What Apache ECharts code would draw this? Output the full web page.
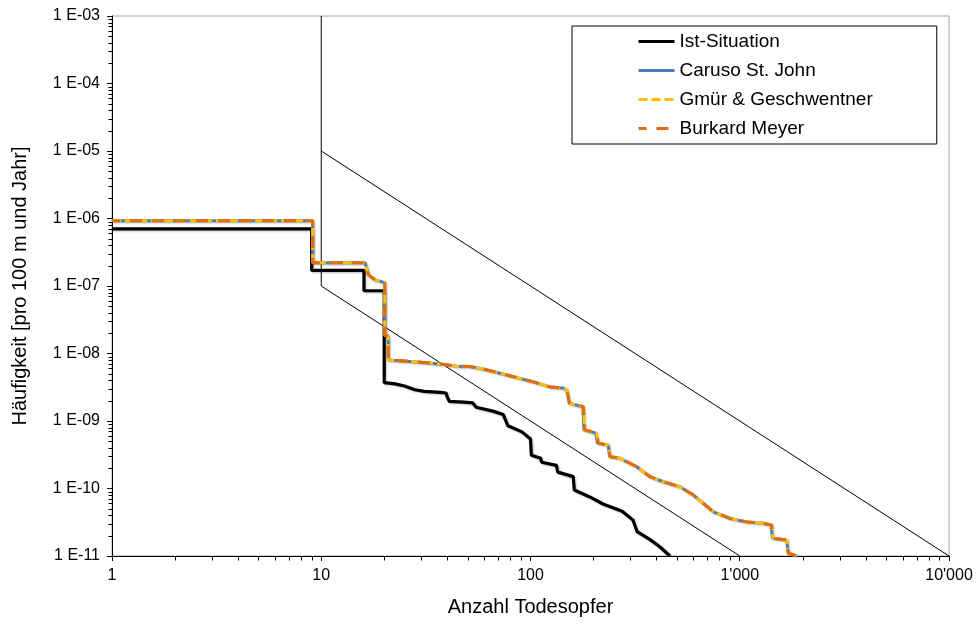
<!DOCTYPE html>
<html>
<head>
<meta charset="utf-8">
<script src="https://cdn.jsdelivr.net/npm/echarts@6/dist/echarts.min.js"></script>
<style>
html,body{margin:0;padding:0;background:#fff;}
#chart{width:979px;height:626px;}
</style>
</head>
<body>
<div id="chart"></div>
<script>
// ---- data ----
const xTickValues = [1, 10, 100, 1000, 10000];
const xTickLabels = ["1", "10", "100", "1'000", "10'000"];
const yTickValues = [1e-11, 1e-10, 1e-9, 1e-8, 1e-7, 1e-6, 1e-5, 1e-4, 1e-3];
const yTickLabels = ["1 E-11", "1 E-10", "1 E-09", "1 E-08", "1 E-07", "1 E-06", "1 E-05", "1 E-04", "1 E-03"];
const seriesNames = ["Ist-Situation", "Caruso St. John", "Gmür & Geschwentner", "Burkard Meyer"];

const istSituation = [[1,7.0e-7],[9,7.0e-7],[9,1.7e-7],[16,1.7e-7],[16,8.5e-8],[20,8.5e-8],[20,3.7e-9],
  [22.5,3.55e-9],[25,3.3e-9],[28,2.9e-9],[31,2.75e-9],[37,2.65e-9],[39.5,2.6e-9],[40,2.27e-9],[41,1.95e-9],
  [48,1.9e-9],[53,1.85e-9],[55,1.6e-9],[66,1.4e-9],[74,1.25e-9],[78,8.5e-10],[91,6.9e-10],[100,5.4e-10],
  [101,3.1e-10],[112,2.8e-10],[113,2.45e-10],[133,2.2e-10],[135,1.75e-10],[160,1.5e-10],[162,9.5e-11],
  [192,7.5e-11],[222,5.9e-11],[274,4.6e-11],[309,3.4e-11],[323,2.3e-11],[373,1.75e-11],[416,1.36e-11],[464,1e-11]];

const carusoStJohn = [[1,9.3e-7],[9.1,9.3e-7],[9.1,2.21e-7],[16.2,2.21e-7],[16.8,1.46e-7],[18.1,1.23e-7],[20.1,1.12e-7],
  [20.1,1.88e-8],[20.9,1.8e-8],[20.9,8.0e-9],[28.6,7.5e-9],[36.9,7.0e-9],[44.4,6.5e-9],[51.4,6.4e-9],[59.3,5.9e-9],
  [71.5,5.1e-9],[103,3.8e-9],[124,3.2e-9],[143,3.08e-9],[149,2.88e-9],[153,1.83e-9],[178,1.63e-9],[180,7.4e-10],
  [205,6.6e-10],[209,4.7e-10],[235,4.4e-10],[239,2.96e-10],[268,2.8e-10],[322,2.1e-10],[372,1.5e-10],[431,1.26e-10],
  [518,1.06e-10],[600,8.0e-11],[670,6.0e-11],[748,4.5e-11],[898,3.6e-11],[1079,3.2e-11],[1296,3.05e-11],
  [1410,2.88e-11],[1435,1.83e-11],[1675,1.73e-11],[1706,1.1e-11],[1872,1e-11]];

const gmurGeschwentner = [[1,9.3e-7],[9.1,9.3e-7],[9.1,2.21e-7],[16.2,2.21e-7],[16.8,1.46e-7],[18.1,1.23e-7],[20.1,1.12e-7],
  [20.1,1.88e-8],[20.9,1.8e-8],[20.9,8.0e-9],[28.6,7.5e-9],[36.9,7.0e-9],[44.4,6.5e-9],[51.4,6.4e-9],[59.3,5.9e-9],
  [71.5,5.1e-9],[103,3.8e-9],[124,3.2e-9],[143,3.08e-9],[149,2.88e-9],[154,1.83e-9],[179,1.63e-9],[182,7.4e-10],
  [207,6.6e-10],[211,4.7e-10],[235,4.4e-10],[240,2.96e-10],[268,2.8e-10],[322,2.1e-10],[372,1.5e-10],[431,1.26e-10],
  [518,1.06e-10],[600,8.0e-11],[670,6.0e-11],[748,4.5e-11],[898,3.6e-11],[1079,3.2e-11],[1296,3.05e-11],
  [1421,2.88e-11],[1445,1.83e-11],[1675,1.73e-11],[1706,1.1e-11],[1872,1e-11]];

const burkardMeyer = [[1,9.3e-7],[9.1,9.3e-7],[9.1,2.21e-7],[16.2,2.21e-7],[16.8,1.46e-7],[18.1,1.23e-7],[20.1,1.12e-7],
  [20.1,1.88e-8],[20.9,1.8e-8],[20.9,8.0e-9],[28.6,7.5e-9],[36.9,7.0e-9],[44.4,6.5e-9],[51.4,6.4e-9],[59.3,5.9e-9],
  [71.5,5.1e-9],[103,3.8e-9],[124,3.2e-9],[143,3.08e-9],[149,2.88e-9],[154,1.83e-9],[179,1.63e-9],[182,7.4e-10],
  [207,6.6e-10],[211,4.7e-10],[235,4.4e-10],[240,2.96e-10],[268,2.8e-10],[322,2.1e-10],[372,1.5e-10],[431,1.26e-10],
  [518,1.06e-10],[600,8.0e-11],[670,6.0e-11],[748,4.5e-11],[898,3.6e-11],[1079,3.2e-11],[1296,3.05e-11],
  [1421,2.88e-11],[1445,1.83e-11],[1675,1.73e-11],[1706,1.1e-11],[1872,1e-11]];

const limitLower = [[10,1e-3],[10,1e-7],[1000,1e-11]];
const limitUpper = [[10,1e-5],[10000,1e-11]];

const minorMultipliers = [2,3,4,5,6,7,8,9];
const xDecades = [1, 10, 100, 1000];
const yDecades = [1e-11, 1e-10, 1e-9, 1e-8, 1e-7, 1e-6, 1e-5, 1e-4];

// ---- build ----
const xMinor = [];
xDecades.forEach(d => minorMultipliers.forEach(m => xMinor.push([d*m, 1e-11])));
const yMinor = [];
yDecades.forEach(d => minorMultipliers.forEach(m => yMinor.push([1, d*m])));

const FONT = 'Liberation Sans, Arial, sans-serif';
const chart = echarts.init(document.getElementById('chart'), null, {renderer:'canvas'});

function tickSeries(data, dir) {
  return {
    type: 'custom', silent: true, clip: false, z: 10,
    data: data, encode: {x: 0, y: 1},
    renderItem: function (params, api) {
      const p = api.coord([api.value(0), api.value(1)]);
      const x = Math.round(p[0]) + 0.5, y = Math.round(p[1]) + 0.5;
      const shape = dir === 'x' ? {x1:x, y1:y, x2:x, y2:y+4} : {x1:x, y1:y, x2:x-4, y2:y};
      return {type:'line', shape: shape, style:{stroke:'#000', lineWidth:1}};
    }
  };
}

const shadow = {shadowColor:'rgba(0,0,0,0.25)', shadowBlur:2, shadowOffsetX:1, shadowOffsetY:1};

const option = {
  animation: false,
  backgroundColor: '#fff',
  textStyle: {fontFamily: FONT},
  grid: {left:112, right:30, top:16, bottom:70, show:true, borderColor:'#A6A6A6', borderWidth:1},
  legend: {
    data: seriesNames,
    orient: 'vertical',
    left: 572, top: 26,
    padding: [6, 64, 6, 65],
    itemWidth: 36, itemHeight: 14, itemGap: 10,
    borderColor: '#000', borderWidth: 1,
    backgroundColor: '#fff',
    itemStyle: {opacity: 0, borderWidth: 0},
    lineStyle: {width: 3},
    textStyle: {fontFamily: FONT, fontSize: 19, color: '#000'},
    inactiveColor: '#ccc'
  },
  xAxis: {
    type: 'log', logBase: 10, min: 1, max: 10000,
    name: 'Anzahl Todesopfer', nameLocation: 'middle', nameGap: 41,
    nameTextStyle: {fontFamily: FONT, fontSize: 20, color: '#000'},
    axisLine: {show: true, lineStyle: {color: '#000', width: 1}},
    axisTick: {show: true, inside: false, length: 5, lineStyle: {color: '#000'}},
    splitLine: {show: false},
    axisLabel: {
      fontFamily: FONT, fontSize: 16, color: '#000', margin: 12,
      formatter: function (v) { const i = xTickValues.findIndex(t => Math.abs(Math.log10(t) - Math.log10(v)) < 1e-6); return i >= 0 ? xTickLabels[i] : ''; }
    }
  },
  yAxis: {
    type: 'log', logBase: 10, min: 1e-11, max: 1e-3,
    name: 'Häufigkeit [pro 100 m und Jahr]', nameLocation: 'middle', nameGap: 82,
    nameTextStyle: {fontFamily: FONT, fontSize: 20, color: '#000'},
    axisLine: {show: true, lineStyle: {color: '#000', width: 1}},
    axisTick: {show: true, inside: false, length: 5, lineStyle: {color: '#000'}},
    splitLine: {show: false},
    axisLabel: {
      fontFamily: FONT, fontSize: 16, color: '#000', margin: 12,
      formatter: function (v) { const i = yTickValues.findIndex(t => Math.abs(Math.log10(t) - Math.log10(v)) < 1e-6); return i >= 0 ? yTickLabels[i] : ''; }
    }
  },
  series: [
    {type:'line', name:'limitLower', data: limitLower, showSymbol:false, symbol:'none', silent:true, z:1,
     lineStyle:{color:'#000', width:1}},
    {type:'line', name:'limitUpper', data: limitUpper, showSymbol:false, symbol:'none', silent:true, z:1,
     lineStyle:{color:'#000', width:1}},
    {type:'line', name: seriesNames[0], data: istSituation, showSymbol:false, symbol:'none', z:3,
     color:'#000', lineStyle:Object.assign({color:'#000', width:3.2}, shadow)},
    {type:'line', name: seriesNames[1], data: carusoStJohn, showSymbol:false, symbol:'none', z:4,
     color:'#4A7EBB', lineStyle:Object.assign({color:'#4A7EBB', width:3}, shadow)},
    {type:'line', name: seriesNames[2], data: gmurGeschwentner, showSymbol:false, symbol:'none', z:5,
     color:'#FFC000', lineStyle:{color:'#FFC000', width:3, type:[9,4]}},
    {type:'line', name: seriesNames[3], data: burkardMeyer, showSymbol:false, symbol:'none', z:6,
     color:'#E46C0A', lineStyle:{color:'#E46C0A', width:3, type:[12,10], dashOffset:4}},
    tickSeries(xMinor, 'x'),
    tickSeries(yMinor, 'y')
  ]
};
chart.setOption(option);
</script>
</body>
</html>
